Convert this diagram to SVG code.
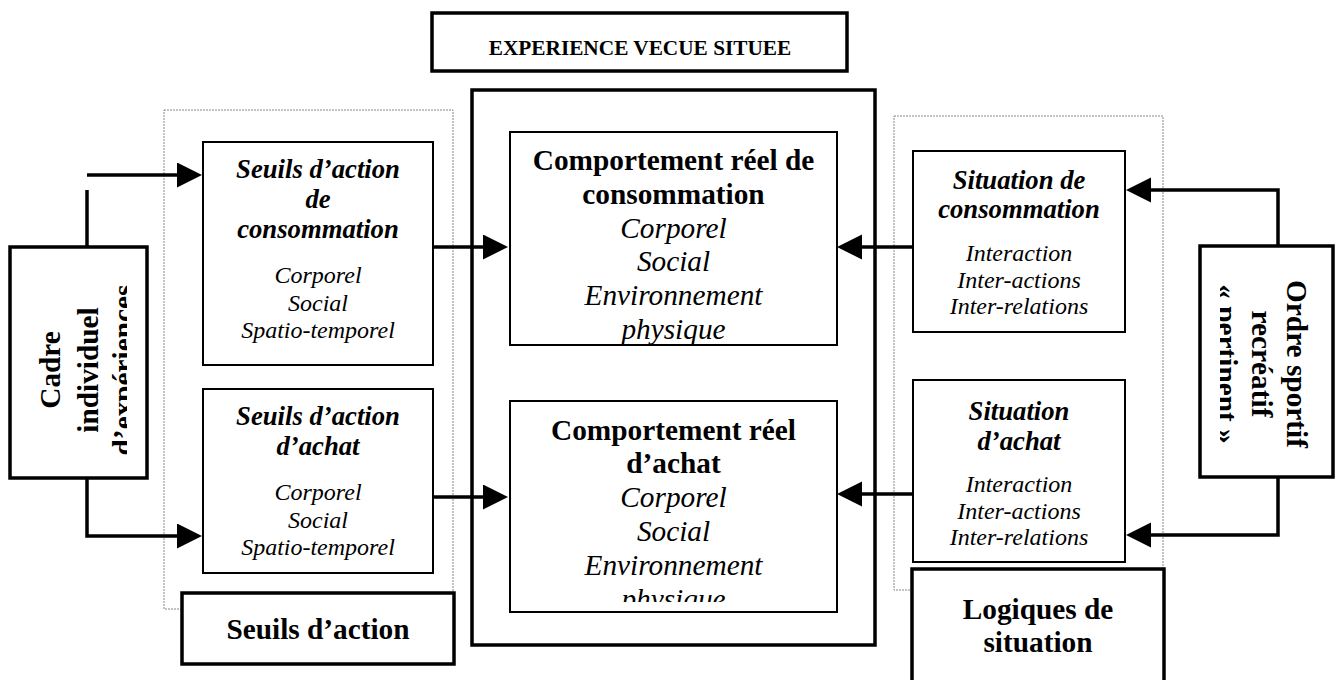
<svg xmlns="http://www.w3.org/2000/svg" width="1337" height="680" viewBox="0 0 1337 680">
<style>
text{font-family:"Liberation Serif","Times New Roman",serif;fill:#000;text-anchor:middle}
.t{font-weight:bold;font-size:21.3px}
.b{font-weight:bold;font-size:29.3px}
.bi{font-weight:bold;font-style:italic;font-size:26.7px}
.i{font-style:italic;font-size:24px}
.ci{font-style:italic;font-size:29.3px}
.thick{fill:#fff;stroke:#000;stroke-width:3.5}
.thin{fill:#fff;stroke:#000;stroke-width:2}
.dot{fill:none;stroke:#888;stroke-width:1;stroke-dasharray:2 1}
.con{fill:none;stroke:#000;stroke-width:3.5}
</style>
<defs>
<marker id="ah" markerUnits="userSpaceOnUse" markerWidth="26" markerHeight="26" refX="0" refY="12.5" orient="auto">
<path d="M0,0 L25,12.5 L0,25 z" fill="#000"/>
</marker>
<clipPath id="clipCadre"><rect x="12" y="250" width="115" height="225"/></clipPath>
<clipPath id="clipOrdre"><rect x="1220" y="250" width="110" height="225"/></clipPath>
<clipPath id="clipC2"><rect x="512" y="403" width="323" height="199"/></clipPath>
</defs>

<g id="dotted-frames">
<rect class="dot" x="164" y="110" width="289" height="499"/>
<rect class="dot" x="894" y="116" width="269" height="474"/>
</g>

<g id="title">
<rect class="thick" x="432" y="13" width="415" height="58"/>
<text class="t" x="640" y="55">EXPERIENCE VECUE SITUEE</text>
</g>

<g id="center-frame">
<rect class="thick" x="472" y="90" width="403" height="555"/>
</g>

<g id="comportement-consommation">
<rect class="thin" x="510" y="132" width="327" height="213"/>
<text class="b" x="673.5" y="170">Comportement réel de</text>
<text class="b" x="673.5" y="204">consommation</text>
<text class="ci" x="673.5" y="238">Corporel</text>
<text class="ci" x="673.5" y="271">Social</text>
<text class="ci" x="673.5" y="305">Environnement</text>
<text class="ci" x="673.5" y="339">physique</text>
</g>

<g id="comportement-achat">
<rect class="thin" x="510" y="401" width="327" height="211"/>
<g clip-path="url(#clipC2)">
<text class="b" x="673.5" y="440">Comportement réel</text>
<text class="b" x="673.5" y="473">d’achat</text>
<text class="ci" x="673.5" y="507">Corporel</text>
<text class="ci" x="673.5" y="541">Social</text>
<text class="ci" x="673.5" y="575">Environnement</text>
<text class="ci" x="673.5" y="609">physique</text>
</g>
</g>

<g id="seuils-consommation">
<rect class="thin" x="203" y="142" width="230" height="223"/>
<text class="bi" x="318" y="178">Seuils d’action</text>
<text class="bi" x="318" y="208">de</text>
<text class="bi" x="318" y="238">consommation</text>
<text class="i" x="318" y="283">Corporel</text>
<text class="i" x="318" y="311">Social</text>
<text class="i" x="318" y="338">Spatio-temporel</text>
</g>

<g id="seuils-achat">
<rect class="thin" x="203" y="389" width="230" height="184"/>
<text class="bi" x="318" y="425">Seuils d’action</text>
<text class="bi" x="318" y="455">d’achat</text>
<text class="i" x="318" y="500">Corporel</text>
<text class="i" x="318" y="528">Social</text>
<text class="i" x="318" y="555">Spatio-temporel</text>
</g>

<g id="seuils-label">
<rect class="thick" x="182" y="593" width="272" height="71"/>
<text class="b" x="318" y="639">Seuils d’action</text>
</g>

<g id="situation-consommation">
<rect class="thin" x="913" y="151" width="212" height="181"/>
<text class="bi" x="1019" y="189">Situation de</text>
<text class="bi" x="1019" y="218">consommation</text>
<text class="i" x="1019" y="261">Interaction</text>
<text class="i" x="1019" y="288">Inter-actions</text>
<text class="i" x="1019" y="314">Inter-relations</text>
</g>

<g id="situation-achat">
<rect class="thin" x="913" y="380" width="212" height="182"/>
<text class="bi" x="1019" y="420">Situation</text>
<text class="bi" x="1019" y="450">d’achat</text>
<text class="i" x="1019" y="492">Interaction</text>
<text class="i" x="1019" y="519">Inter-actions</text>
<text class="i" x="1019" y="545">Inter-relations</text>
</g>

<g id="logiques-label">
<rect class="thick" x="912" y="569" width="252" height="115"/>
<text class="b" x="1038" y="619">Logiques de</text>
<text class="b" x="1038" y="652">situation</text>
</g>

<g id="cadre">
<rect class="thick" x="10" y="247" width="137" height="231"/>
<g clip-path="url(#clipCadre)">
<g transform="translate(0,370) rotate(-90)">
<text class="b" x="0" y="60">Cadre</text>
<text class="b" x="0" y="98">individuel</text>
<text class="b" x="0" y="133">d’expériences</text>
</g>
</g>
</g>

<g id="ordre">
<rect class="thick" x="1200" y="246" width="133" height="231"/>
<g clip-path="url(#clipOrdre)">
<g transform="translate(0,364) rotate(90)">
<text class="b" x="0" y="-1287">Ordre sportif</text>
<text class="b" x="0" y="-1252">recréatif</text>
<text class="b" x="0" y="-1217">« pertinent »</text>
</g>
</g>
</g>

<g id="connectors">
<path class="con" d="M87,247 V190"/>
<path class="con" d="M87,175 H177" marker-end="url(#ah)"/>
<path class="con" d="M87,478 V536 H177" marker-end="url(#ah)"/>
<path class="con" d="M433,247 H483" marker-end="url(#ah)"/>
<path class="con" d="M433,497 H483" marker-end="url(#ah)"/>
<path class="con" d="M913,247 H862" marker-end="url(#ah)"/>
<path class="con" d="M913,494 H862" marker-end="url(#ah)"/>
<path class="con" d="M1278,246 V190 H1151" marker-end="url(#ah)"/>
<path class="con" d="M1278,477 V535 H1151" marker-end="url(#ah)"/>
</g>
</svg>
